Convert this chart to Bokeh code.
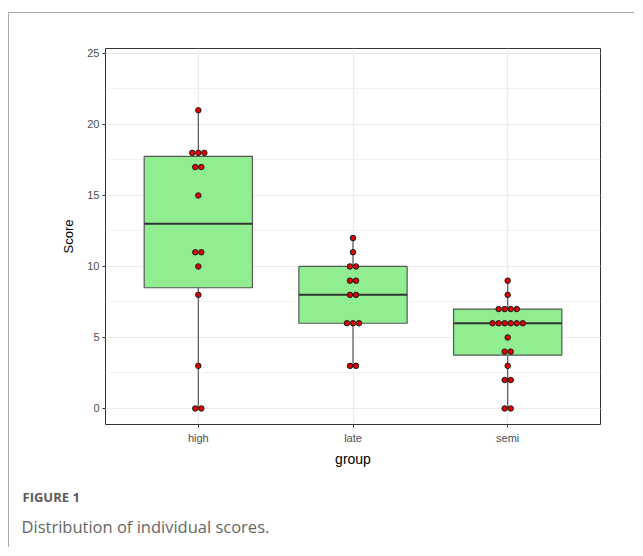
import numpy as np
from bokeh.plotting import figure
from bokeh.models import (FixedTicker, SingleIntervalTicker, Range1d, Title)
from bokeh.embed import file_html
from bokeh.resources import INLINE

# ---- data ----
groups = ["high", "late", "semi"]
high = [21, 18, 18, 18, 17, 17, 15, 11, 11, 10, 8, 3, 0, 0]
late = [12, 11, 10, 10, 9, 9, 8, 8, 6, 6, 6, 3, 3]
semi = [9, 8, 7, 7, 7, 7, 6, 6, 6, 6, 6, 6, 5, 4, 4, 3, 2, 2, 0, 0]
y_ticks = [0, 5, 10, 15, 20, 25]
series = [high, late, semi]

p = figure(width=626, height=535, output_backend="svg", toolbar_location=None,
           x_range=Range1d(0.4, 3.6), y_range=Range1d(-1.13, 25.35),
           min_border_left=96, min_border_right=35, min_border_top=35, min_border_bottom=124)
p.styles = {"margin-top": "12px", "margin-left": "8px",
            "border-top": "1px solid #a8a8a8", "border-left": "1px solid #a8a8a8"}

p.background_fill_color = "white"
p.border_fill_color = "white"
p.outline_line_color = "#333333"
p.outline_line_width = 1

# grid
p.xgrid.ticker = FixedTicker(ticks=[1, 2, 3])
p.xgrid.grid_line_color = "#ebebeb"
p.xgrid.grid_line_width = 1.2
p.ygrid.ticker = SingleIntervalTicker(interval=5, num_minor_ticks=2)
p.ygrid.grid_line_color = "#ebebeb"
p.ygrid.grid_line_width = 1.2
p.ygrid.minor_grid_line_color = "#f2f2f2"
p.ygrid.minor_grid_line_width = 1

# axes
p.xaxis.ticker = FixedTicker(ticks=[1, 2, 3])
p.xaxis.major_label_overrides = {1: groups[0], 2: groups[1], 3: groups[2]}
p.yaxis.ticker = FixedTicker(ticks=y_ticks)
for ax in (p.xaxis[0], p.yaxis[0]):
    ax.axis_line_color = None
    ax.major_tick_line_color = "#333333"
    ax.major_tick_out = 3
    ax.major_tick_in = 0
    ax.minor_tick_line_color = None
    ax.major_label_text_font = "Liberation Sans"
    ax.major_label_text_font_size = "11px"
    ax.major_label_text_color = "#4d4d4d"
    ax.axis_label_text_font = "Liberation Sans"
    ax.axis_label_text_font_style = "normal"
    ax.axis_label_text_color = "black"
p.xaxis.axis_label = "group"
p.xaxis.axis_label_text_font_size = "14px"
p.xaxis.axis_label_standoff = 4
p.xaxis.major_label_standoff = 4
p.yaxis.axis_label = "Score"
p.yaxis.axis_label_text_font_size = "13px"
p.yaxis.axis_label_standoff = 8
p.yaxis.major_label_standoff = 3

# boxplots
box_w = 0.7
for i, vals in enumerate(series):
    xc = i + 1
    v = np.array(vals, dtype=float)
    q1, med, q3 = np.percentile(v, [25, 50, 75])
    iqr = q3 - q1
    lo = v[v >= q1 - 1.5 * iqr].min()
    hi = v[v <= q3 + 1.5 * iqr].max()
    p.segment(x0=[xc, xc], y0=[q3, q1], x1=[xc, xc], y1=[hi, lo], line_color="#555555", line_width=1.2)
    p.quad(left=[xc - box_w / 2], right=[xc + box_w / 2], bottom=[q1], top=[q3],
           fill_color="#90EE90", line_color="#555555", line_width=1.2)
    p.segment(x0=[xc - box_w / 2], x1=[xc + box_w / 2], y0=[med], y1=[med],
              line_color="#333333", line_width=2)

# dotplot (centered stacks)
step = 0.039
xs, ys = [], []
for i, vals in enumerate(series):
    uniq, counts = np.unique(vals, return_counts=True)
    for u, c in zip(uniq, counts):
        offs = (np.arange(c) - (c - 1) / 2) * step
        xs.extend(list(i + 1 + offs))
        ys.extend([u] * c)
p.scatter(x=xs, y=ys, size=5.5, fill_color="#e00000", line_color="#1a1a1a", line_width=1)

# caption (as titles below the plot)
t1 = Title(text="FIGURE 1", align="left", offset=-83, standoff=33,
           text_font="Open Sans", text_font_size="13px", text_color="#5a5a5a",
           text_font_style="bold", text_line_height=1.0)
t2 = Title(text="Distribution of individual scores.", align="left", offset=-84, standoff=-20,
           text_font="Open Sans", text_font_size="16.5px", text_color="#666666",
           text_font_style="normal")
p.add_layout(t1, "below")
p.add_layout(t2, "below")

open("out.html", "w").write(file_html(p, INLINE))
